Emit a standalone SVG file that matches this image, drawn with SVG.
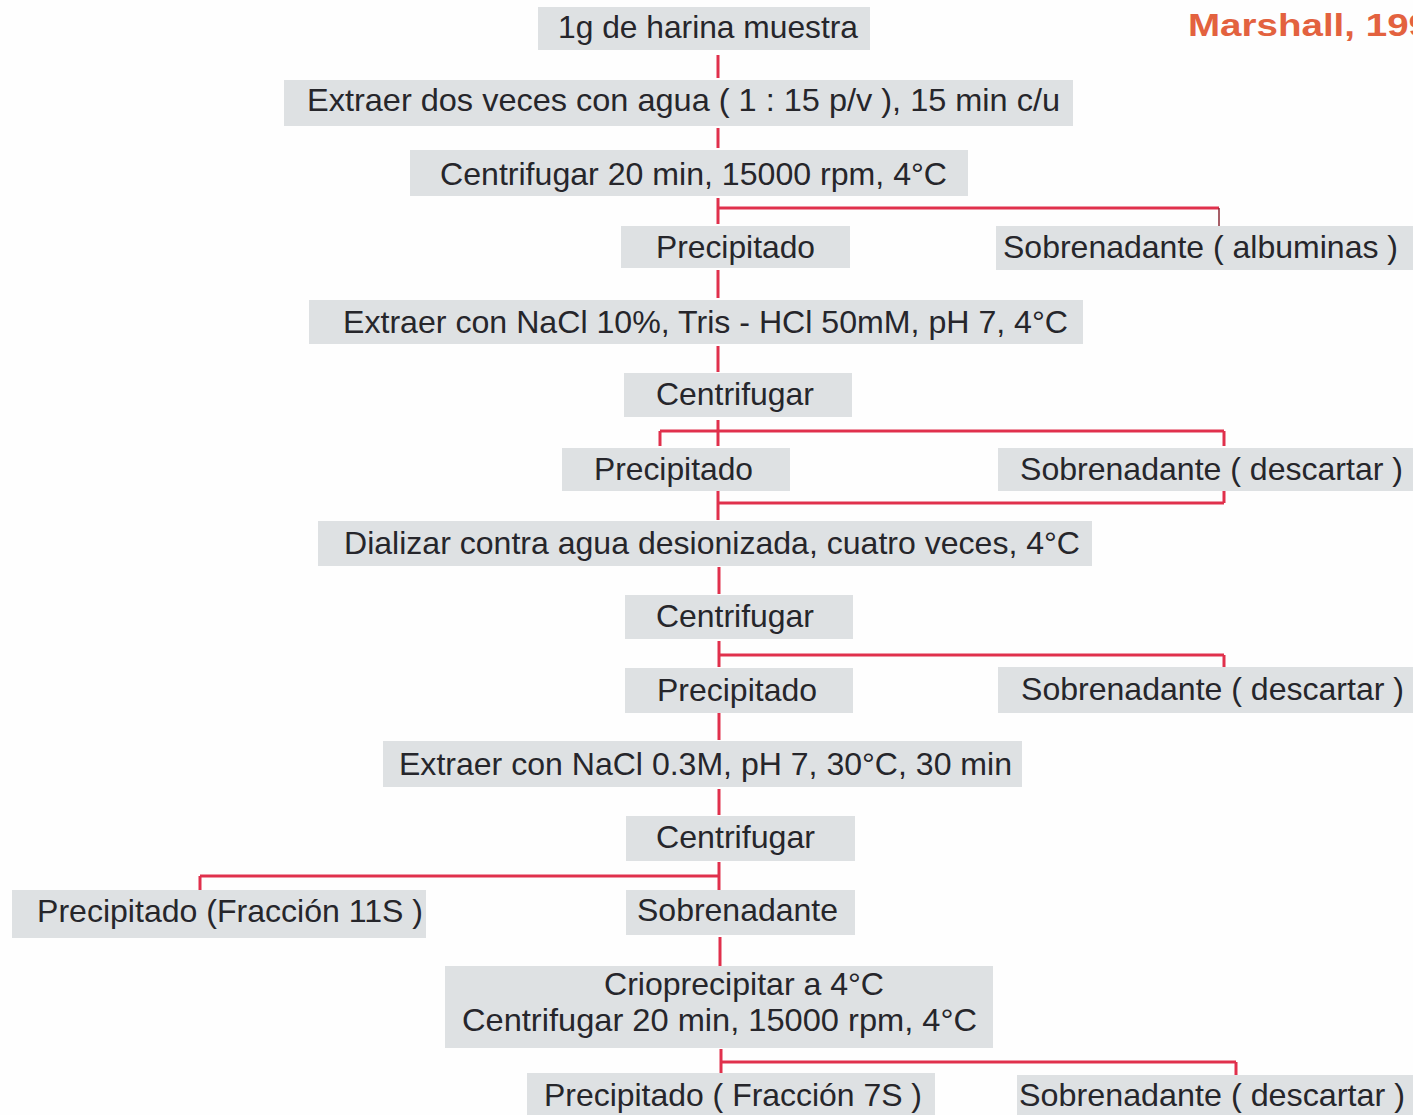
<svg xmlns="http://www.w3.org/2000/svg" width="1413" height="1115" viewBox="0 0 1413 1115">
<style>
.bg{fill:#fefefe}
.box{fill:#dee1e3}
.t{font-family:"Liberation Sans",Arial,sans-serif;font-size:32px;fill:#26262b}
.c{stroke:#e0304c;stroke-width:3;fill:none}
.thin{stroke:#8a2a36;stroke-width:1.5;fill:none}
.ttl{font-family:"Liberation Sans",Arial,sans-serif;font-size:32px;font-weight:bold;fill:#e3623f}
</style>
<rect class="bg" x="0" y="0" width="1413" height="1115"/>
<text class="ttl" x="1188" y="36" textLength="242" lengthAdjust="spacingAndGlyphs">Marshall, 199</text>
<g id="connectors">
<path class="c" d="M718 55V78M718 128V148M718 198V224M718 208H1219M718 270V298M718 346V372M718 420V446M660 431H1224M660 431V446M1224 431V446M718 491V520M718 503H1224M1224 491V503M719 567V594M719 641V667M719 655H1224M1224 655V667M719 713V740M719 789V815M719 862V890M200 876H720M200 876V890M720 937V966M721 1049V1075M721 1062H1236M1236 1062V1075"/>
<path class="thin" d="M1219 208V262"/>
</g>
<g id="n1"><rect class="box" x="538" y="7" width="332" height="43"/><text class="t" x="558" y="38" textLength="300" lengthAdjust="spacingAndGlyphs">1g de harina muestra</text></g>
<g id="n2"><rect class="box" x="284" y="80" width="789" height="46"/><text class="t" x="307" y="111" textLength="753" lengthAdjust="spacingAndGlyphs">Extraer dos veces con agua ( 1 : 15 p/v ), 15 min  c/u</text></g>
<g id="n3"><rect class="box" x="410" y="150" width="558" height="46"/><text class="t" x="440" y="185" textLength="507" lengthAdjust="spacingAndGlyphs">Centrifugar 20 min, 15000 rpm, 4°C</text></g>
<g id="n4"><rect class="box" x="621" y="226" width="229" height="42"/><text class="t" x="656" y="258" textLength="159" lengthAdjust="spacingAndGlyphs">Precipitado</text></g>
<g id="n5"><rect class="box" x="996" y="226" width="417" height="44"/><text class="t" x="1003" y="258" textLength="395" lengthAdjust="spacingAndGlyphs">Sobrenadante ( albuminas )</text></g>
<g id="n6"><rect class="box" x="309" y="300" width="774" height="44"/><text class="t" x="343" y="333" textLength="725" lengthAdjust="spacingAndGlyphs">Extraer con NaCl 10%, Tris - HCl 50mM, pH 7, 4°C</text></g>
<g id="n7"><rect class="box" x="624" y="373" width="228" height="44"/><text class="t" x="656" y="405" textLength="158" lengthAdjust="spacingAndGlyphs">Centrifugar</text></g>
<g id="n8"><rect class="box" x="562" y="448" width="228" height="43"/><text class="t" x="594" y="480" textLength="159" lengthAdjust="spacingAndGlyphs">Precipitado</text></g>
<g id="n9"><rect class="box" x="998" y="448" width="415" height="43"/><text class="t" x="1020" y="480" textLength="383" lengthAdjust="spacingAndGlyphs">Sobrenadante ( descartar )</text></g>
<g id="n10"><rect class="box" x="318" y="521" width="774" height="45"/><text class="t" x="344" y="554" textLength="736" lengthAdjust="spacingAndGlyphs">Dializar contra agua desionizada, cuatro veces, 4°C</text></g>
<g id="n11"><rect class="box" x="625" y="595" width="228" height="44"/><text class="t" x="656" y="627" textLength="158" lengthAdjust="spacingAndGlyphs">Centrifugar</text></g>
<g id="n12"><rect class="box" x="625" y="668" width="228" height="45"/><text class="t" x="657" y="701" textLength="160" lengthAdjust="spacingAndGlyphs">Precipitado</text></g>
<g id="n13"><rect class="box" x="998" y="667" width="415" height="46"/><text class="t" x="1021" y="700" textLength="383" lengthAdjust="spacingAndGlyphs">Sobrenadante ( descartar )</text></g>
<g id="n14"><rect class="box" x="383" y="741" width="639" height="46"/><text class="t" x="399" y="775" textLength="613" lengthAdjust="spacingAndGlyphs">Extraer con NaCl 0.3M, pH 7, 30°C, 30 min</text></g>
<g id="n15"><rect class="box" x="626" y="816" width="229" height="45"/><text class="t" x="656" y="848" textLength="159" lengthAdjust="spacingAndGlyphs">Centrifugar</text></g>
<g id="n16"><rect class="box" x="12" y="890" width="414" height="48"/><text class="t" x="37" y="922" textLength="386" lengthAdjust="spacingAndGlyphs">Precipitado (Fracción 11S )</text></g>
<g id="n17"><rect class="box" x="626" y="890" width="229" height="45"/><text class="t" x="637" y="921" textLength="201" lengthAdjust="spacingAndGlyphs">Sobrenadante</text></g>
<g id="n18"><rect class="box" x="445" y="966" width="548" height="82"/><text class="t" x="604" y="995" textLength="280" lengthAdjust="spacingAndGlyphs">Crioprecipitar a 4°C</text><text class="t" x="462" y="1031" textLength="515" lengthAdjust="spacingAndGlyphs">Centrifugar 20 min,  15000 rpm, 4°C</text></g>
<g id="n19"><rect class="box" x="527" y="1073" width="408" height="42"/><text class="t" x="544" y="1106" textLength="378" lengthAdjust="spacingAndGlyphs">Precipitado ( Fracción 7S )</text></g>
<g id="n20"><rect class="box" x="1017" y="1075" width="396" height="40"/><text class="t" x="1019" y="1106" textLength="386" lengthAdjust="spacingAndGlyphs">Sobrenadante ( descartar )</text></g>
</svg>
